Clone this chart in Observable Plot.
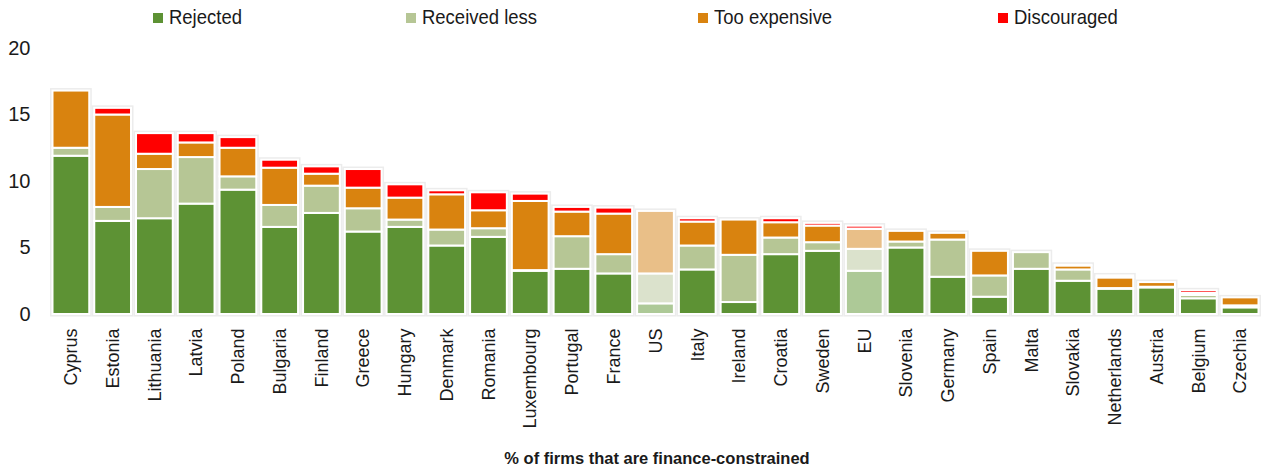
<!DOCTYPE html>
<html>
<head>
<meta charset="utf-8">
<script src="https://cdn.jsdelivr.net/npm/d3@7"></script>
<script src="https://cdn.jsdelivr.net/npm/@observablehq/plot@0.6"></script>
<style>
  html, body { margin: 0; padding: 0; background: #fff; }
  #wrap { position: relative; width: 1261px; height: 468px; overflow: hidden; font-family: "Liberation Sans", Arial, sans-serif; }
  #legend { position: relative; height: 34px; }
  .sw { position: absolute; top: 13px; width: 10px; height: 10px; }
  .lt { position: absolute; top: 5px; font-family: "Liberation Sans", Arial, sans-serif; font-size: 21px; line-height: 24px; color: #1a1a1a; white-space: nowrap; transform: scaleX(0.88); transform-origin: left center; }
  #caption { position: absolute; top: 449px; left: 407px; width: 500px; text-align: center; font-family: "Liberation Sans", Arial, sans-serif; font-weight: bold; font-size: 16.5px; line-height: 18px; color: #1a1a1a; }
  svg { display: block; }
</style>
</head>
<body>
<div id="wrap">
  <div id="legend"></div>
  <div id="chart"></div>
  <div id="caption">% of firms that are finance-constrained</div>
</div>
<script>
const countries = ["Cyprus","Estonia","Lithuania","Latvia","Poland","Bulgaria","Finland","Greece","Hungary","Denmark","Romania","Luxembourg","Portugal","France","US","Italy","Ireland","Croatia","Sweden","EU","Slovenia","Germany","Spain","Malta","Slovakia","Netherlands","Austria","Belgium","Czechia"];
const rejected     = [11.9, 7.0, 7.2, 8.3, 9.35, 6.55, 7.6, 6.2, 6.55, 5.15, 5.8, 3.25, 3.4, 3.05, 0.8, 3.35, 0.9, 4.5, 4.75, 3.25, 5.0, 2.8, 1.3, 3.4, 2.5, 1.9, 2.0, 1.18, 0.5];
const receivedLess = [0.6, 1.05, 3.7, 3.5, 1.0, 1.65, 2.05, 1.75, 0.55, 1.2, 0.65, 0.05, 2.45, 1.45, 2.25, 1.8, 3.55, 1.25, 0.65, 1.65, 0.45, 2.8, 1.6, 1.25, 0.85, 0.05, 0.05, 0.25, 0.15];
const tooExpensive = [4.3, 6.95, 1.15, 1.1, 2.15, 2.8, 0.9, 1.55, 1.65, 2.65, 1.35, 5.2, 1.85, 3.05, 4.7, 1.8, 2.65, 1.15, 1.25, 1.5, 0.8, 0.5, 1.85, 0, 0.3, 0.8, 0.35, 0.15, 0.6];
const discouraged  = [0, 0.5, 1.55, 0.7, 0.8, 0.6, 0.55, 1.4, 1.0, 0.3, 1.35, 0.55, 0.35, 0.45, 0, 0.25, 0, 0.3, 0.2, 0.25, 0, 0, 0, 0, 0.05, 0.15, 0, 0.2, 0];
const highlighted = ["US", "EU"];
const seriesNames = ["Rejected", "Received less", "Too expensive", "Discouraged"];
const seriesColors = ["#5d9234", "#b6c695", "#d9830f", "#ff0000"];
const paleColors   = ["#adc997", "#dbe2cc", "#e9bf88", "#ff6060"];
const yTicks = [0, 5, 10, 15, 20];

// legend
const legendX = [153, 406, 698, 998];
const legend = document.getElementById("legend");
seriesNames.forEach((name, i) => {
  const sw = document.createElement("div");
  sw.className = "sw"; sw.style.left = legendX[i] + "px"; sw.style.background = seriesColors[i];
  legend.appendChild(sw);
  const t = document.createElement("div");
  t.className = "lt"; t.style.left = (legendX[i] + 16) + "px"; t.textContent = name;
  legend.appendChild(t);
});

const seriesValues = [rejected, receivedLess, tooExpensive, discouraged];
const rows = [];
countries.forEach((c, ci) => {
  seriesValues.forEach((vals, si) => {
    if (vals[ci] > 0) rows.push({country: c, series: seriesNames[si], si, value: vals[ci], pale: highlighted.includes(c)});
  });
});
const totals = countries.map((c, ci) => ({country: c, total: seriesValues.reduce((s, v) => s + v[ci], 0)}));

const chart = Plot.plot({
  width: 1261,
  height: 412,
  marginLeft: 50,
  marginRight: 0,
  marginTop: 14,
  marginBottom: 132,
  x: {domain: countries, paddingInner: 0.12, paddingOuter: 0.06, round: false, label: null},
  y: {domain: [0, 20], ticks: yTicks, label: null},
  color: {type: "identity"},
  style: {fontFamily: "'Liberation Sans', Arial, sans-serif", color: "#1a1a1a", background: "white"},
  marks: [
    Plot.barY(totals, {x: "country", y: "total", fill: "none", stroke: "#ececec", strokeWidth: 5}),
    Plot.barY(rows, Plot.stackY({
      x: "country",
      y: "value",
      z: "series",
      fill: d => d.pale ? paleColors[d.si] : seriesColors[d.si],
      stroke: "white",
      strokeWidth: 2
    })),
    Plot.axisY({ticks: yTicks, tickSize: 0, tickPadding: 20, fontSize: 20, label: null}),
    Plot.axisX({tickSize: 0, tickPadding: 14, tickRotate: -90, fontSize: 18, label: null})
  ]
});
document.getElementById("chart").appendChild(chart);
</script>
</body>
</html>
